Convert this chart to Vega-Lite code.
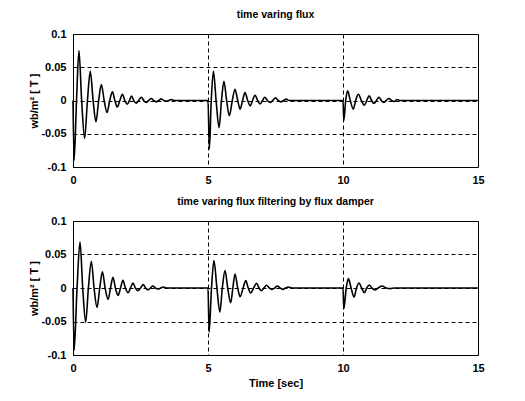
{
  "$schema": "https://vega.github.io/schema/vega-lite/v6.json",
  "padding": {"left": 28, "top": 9, "right": 40, "bottom": 5},
  "background": "white",
  "spacing": 10,
  "config": {
    "font": "Liberation Sans",
    "view": {"stroke": "black", "strokeWidth": 1},
    "axis": {
      "domain": false,
      "ticks": false,
      "grid": true,
      "gridColor": "black",
      "gridOpacity": 1,
      "gridDash": [4, 3],
      "gridWidth": 1,
      "labelColor": "black",
      "labelFont": "Liberation Sans",
      "labelFontSize": 11,
      "labelFontWeight": "bold",
      "labelPadding": 7,
      "labelFlush": false,
      "labelOverlap": false,
      "titleColor": "black",
      "titleFont": "Liberation Sans",
      "titleFontSize": 11,
      "titleFontWeight": "bold"
    },
    "title": {"font": "Liberation Sans", "fontSize": 10.5, "fontWeight": "bold", "color": "black", "offset": 8}
  },
  "datasets": {
    "top": [
      {"t": 0, "v": 0}, {"t": 0.04, "v": -0.09}, {"t": 0.13, "v": 0}, {"t": 0.22, "v": 0.075},
      {"t": 0.32, "v": 0}, {"t": 0.43, "v": -0.057}, {"t": 0.535, "v": 0}, {"t": 0.64, "v": 0.044},
      {"t": 0.745, "v": 0}, {"t": 0.85, "v": -0.032}, {"t": 0.95, "v": 0}, {"t": 1.05, "v": 0.024},
      {"t": 1.155, "v": 0}, {"t": 1.26, "v": -0.018}, {"t": 1.36, "v": 0}, {"t": 1.46, "v": 0.013},
      {"t": 1.55, "v": 0}, {"t": 1.64, "v": -0.0098}, {"t": 1.735, "v": 0}, {"t": 1.83, "v": 0.0093},
      {"t": 1.92, "v": 0}, {"t": 2.01, "v": -0.0057}, {"t": 2.09, "v": 0}, {"t": 2.17, "v": 0.0068},
      {"t": 2.25, "v": 0}, {"t": 2.34, "v": -0.004}, {"t": 2.43, "v": 0}, {"t": 2.53, "v": 0.005},
      {"t": 2.62, "v": 0}, {"t": 2.71, "v": -0.003}, {"t": 2.8, "v": 0}, {"t": 2.9, "v": 0.003},
      {"t": 2.99, "v": 0}, {"t": 3.08, "v": -0.002}, {"t": 3.17, "v": 0}, {"t": 3.27, "v": 0.0025},
      {"t": 3.36, "v": 0}, {"t": 3.45, "v": -0.001}, {"t": 3.55, "v": 0}, {"t": 3.64, "v": 0.0015},
      {"t": 3.75, "v": 0}, {"t": 4.5, "v": 0}, {"t": 5.0, "v": 0},
      {"t": 5.05, "v": -0.073}, {"t": 5.12, "v": 0}, {"t": 5.2, "v": 0.044}, {"t": 5.3, "v": 0},
      {"t": 5.41, "v": -0.041}, {"t": 5.5, "v": 0}, {"t": 5.59, "v": 0.029}, {"t": 5.69, "v": 0},
      {"t": 5.79, "v": -0.023}, {"t": 5.9, "v": 0}, {"t": 6.0, "v": 0.017}, {"t": 6.1, "v": 0},
      {"t": 6.19, "v": -0.013}, {"t": 6.28, "v": 0}, {"t": 6.37, "v": 0.012}, {"t": 6.47, "v": 0},
      {"t": 6.56, "v": -0.008}, {"t": 6.65, "v": 0}, {"t": 6.74, "v": 0.008}, {"t": 6.84, "v": 0},
      {"t": 6.93, "v": -0.005}, {"t": 7.02, "v": 0}, {"t": 7.1, "v": 0.005}, {"t": 7.2, "v": 0},
      {"t": 7.3, "v": -0.003}, {"t": 7.4, "v": 0}, {"t": 7.5, "v": 0.004}, {"t": 7.6, "v": 0},
      {"t": 7.7, "v": -0.002}, {"t": 7.8, "v": 0}, {"t": 7.9, "v": 0.002}, {"t": 8.0, "v": 0},
      {"t": 9.0, "v": 0}, {"t": 10.0, "v": 0},
      {"t": 10.03, "v": -0.03}, {"t": 10.1, "v": 0}, {"t": 10.17, "v": 0.0145}, {"t": 10.27, "v": 0},
      {"t": 10.38, "v": -0.013}, {"t": 10.47, "v": 0}, {"t": 10.57, "v": 0.0093}, {"t": 10.68, "v": 0},
      {"t": 10.79, "v": -0.0072}, {"t": 10.88, "v": 0}, {"t": 10.97, "v": 0.0072}, {"t": 11.06, "v": 0},
      {"t": 11.15, "v": -0.0045}, {"t": 11.24, "v": 0}, {"t": 11.33, "v": 0.005}, {"t": 11.42, "v": 0},
      {"t": 11.51, "v": -0.003}, {"t": 11.6, "v": 0}, {"t": 11.7, "v": 0.003}, {"t": 11.8, "v": 0},
      {"t": 11.9, "v": -0.0015}, {"t": 12.0, "v": 0.0015}, {"t": 12.1, "v": 0},
      {"t": 13.5, "v": 0}, {"t": 15, "v": 0}
    ],
    "bottom": [
      {"t": 0, "v": 0}, {"t": 0.04, "v": -0.093}, {"t": 0.15, "v": 0}, {"t": 0.26, "v": 0.069},
      {"t": 0.36, "v": 0}, {"t": 0.47, "v": -0.051}, {"t": 0.57, "v": 0}, {"t": 0.68, "v": 0.04},
      {"t": 0.78, "v": 0}, {"t": 0.89, "v": -0.029}, {"t": 0.99, "v": 0}, {"t": 1.09, "v": 0.024},
      {"t": 1.19, "v": 0}, {"t": 1.3, "v": -0.017}, {"t": 1.39, "v": 0}, {"t": 1.48, "v": 0.016},
      {"t": 1.57, "v": 0}, {"t": 1.67, "v": -0.011}, {"t": 1.76, "v": 0}, {"t": 1.85, "v": 0.0115},
      {"t": 1.94, "v": 0}, {"t": 2.04, "v": -0.007}, {"t": 2.13, "v": 0}, {"t": 2.22, "v": 0.0075},
      {"t": 2.31, "v": 0}, {"t": 2.4, "v": -0.004}, {"t": 2.5, "v": 0}, {"t": 2.6, "v": 0.005},
      {"t": 2.69, "v": 0}, {"t": 2.78, "v": -0.003}, {"t": 2.87, "v": 0}, {"t": 2.96, "v": 0.003},
      {"t": 3.05, "v": 0}, {"t": 3.15, "v": -0.0015}, {"t": 3.25, "v": 0}, {"t": 3.35, "v": 0.0015},
      {"t": 3.45, "v": 0}, {"t": 4.3, "v": 0}, {"t": 5.0, "v": 0},
      {"t": 5.04, "v": -0.066}, {"t": 5.13, "v": 0}, {"t": 5.22, "v": 0.041}, {"t": 5.33, "v": 0},
      {"t": 5.44, "v": -0.036}, {"t": 5.53, "v": 0}, {"t": 5.63, "v": 0.026}, {"t": 5.73, "v": 0},
      {"t": 5.84, "v": -0.022}, {"t": 5.92, "v": 0}, {"t": 6.0, "v": 0.021}, {"t": 6.1, "v": 0},
      {"t": 6.19, "v": -0.013}, {"t": 6.3, "v": 0}, {"t": 6.4, "v": 0.011}, {"t": 6.49, "v": 0},
      {"t": 6.58, "v": -0.0075}, {"t": 6.69, "v": 0}, {"t": 6.8, "v": 0.007}, {"t": 6.89, "v": 0},
      {"t": 6.98, "v": -0.004}, {"t": 7.07, "v": 0}, {"t": 7.17, "v": 0.004}, {"t": 7.27, "v": 0},
      {"t": 7.37, "v": -0.002}, {"t": 7.47, "v": 0}, {"t": 7.57, "v": 0.003}, {"t": 7.67, "v": 0},
      {"t": 7.77, "v": -0.002}, {"t": 7.87, "v": 0}, {"t": 7.97, "v": 0.0015}, {"t": 8.1, "v": 0},
      {"t": 9.0, "v": 0}, {"t": 10.0, "v": 0},
      {"t": 10.03, "v": -0.031}, {"t": 10.12, "v": 0}, {"t": 10.2, "v": 0.014}, {"t": 10.3, "v": 0},
      {"t": 10.41, "v": -0.0135}, {"t": 10.5, "v": 0}, {"t": 10.59, "v": 0.0075}, {"t": 10.69, "v": 0},
      {"t": 10.79, "v": -0.007}, {"t": 10.88, "v": 0}, {"t": 10.97, "v": 0.0045}, {"t": 11.07, "v": 0},
      {"t": 11.18, "v": -0.003}, {"t": 11.3, "v": 0}, {"t": 11.45, "v": 0.003}, {"t": 11.6, "v": 0},
      {"t": 11.75, "v": -0.001}, {"t": 11.9, "v": 0}, {"t": 13.5, "v": 0}, {"t": 15, "v": 0}
    ]
  },
  "vconcat": [
    {
      "title": "time varing flux",
      "width": 405,
      "height": 133,
      "data": {"name": "top"},
      "mark": {"type": "line", "color": "black", "strokeWidth": 1.6, "interpolate": "monotone"},
      "encoding": {
        "x": {"field": "t", "type": "quantitative", "scale": {"domain": [0, 15], "nice": false},
              "axis": {"values": [0, 5, 10, 15], "title": null}},
        "y": {"field": "v", "type": "quantitative", "scale": {"domain": [-0.1, 0.1], "nice": false},
              "axis": {"values": [-0.1, -0.05, 0, 0.05, 0.1], "labelExpr": "'' + datum.value", "title": "wb/m² [ T ]", "titlePadding": 1}}
      }
    },
    {
      "title": "time varing flux filtering by flux damper",
      "width": 405,
      "height": 134,
      "data": {"name": "bottom"},
      "mark": {"type": "line", "color": "black", "strokeWidth": 1.6, "interpolate": "monotone"},
      "encoding": {
        "x": {"field": "t", "type": "quantitative", "scale": {"domain": [0, 15], "nice": false},
              "axis": {"values": [0, 5, 10, 15], "title": "Time [sec]", "titlePadding": 4}},
        "y": {"field": "v", "type": "quantitative", "scale": {"domain": [-0.1, 0.1], "nice": false},
              "axis": {"values": [-0.1, -0.05, 0, 0.05, 0.1], "labelExpr": "'' + datum.value", "title": "wb/m² [ T ]", "titlePadding": 1}}
      }
    }
  ]
}
